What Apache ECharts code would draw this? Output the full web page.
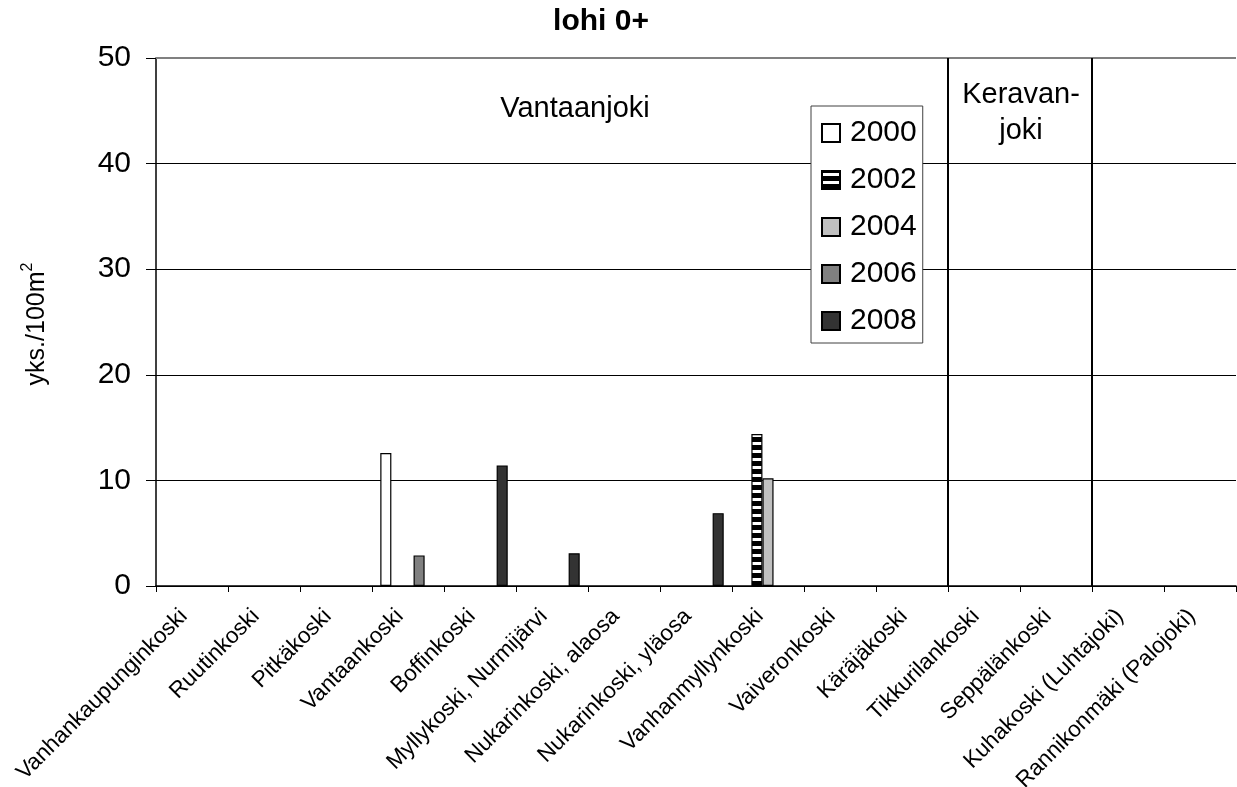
<!DOCTYPE html>
<html>
<head>
<meta charset="utf-8">
<title>lohi 0+</title>
<script src="https://cdn.jsdelivr.net/npm/echarts@6/dist/echarts.min.js"></script>
<style>
  html, body { margin: 0; padding: 0; background: #fff; }
  #chart { width: 1237px; height: 787px; }
</style>
</head>
<body>
<div id="chart"></div>
<script>
// Sampling sites along the rivers
const categories = [
  'Vanhankaupunginkoski', 'Ruutinkoski', 'Pitkäkoski', 'Vantaankoski',
  'Boffinkoski', 'Myllykoski, Nurmijärvi', 'Nukarinkoski, alaosa',
  'Nukarinkoski, yläosa', 'Vanhanmyllynkoski', 'Vaiveronkoski',
  'Käräjäkoski', 'Tikkurilankoski', 'Seppälänkoski',
  'Kuhakoski (Luhtajoki)', 'Rannikonmäki (Palojoki)'
];

// Densities (yks./100m²) per survey year; null = no catch
const v2000 = [null, null, null, 12.6, null, null, null, null, null, null, null, null, null, null, null];
const v2002 = [null, null, null, null, null, null, null, null, 14.4, null, null, null, null, null, null];
const v2004 = [null, null, null, null, null, null, null, null, 10.2, null, null, null, null, null, null];
const v2006 = [null, null, null, 2.9, null, null, null, null, null, null, null, null, null, null, null];
const v2008 = [null, null, null, null, 11.4, 3.1, null, 6.9, null, null, null, null, null, null, null];

const years = ['2000', '2002', '2004', '2006', '2008'];
const yTicks = [0, 10, 20, 30, 40, 50];

// River section boundaries, in category units along the x axis
const riverBounds = [11, 13];

const FONT = '"Liberation Sans", Arial, Helvetica, sans-serif';

// Horizontal stripe fill for the 2002 series
function stripePattern() {
  const c = document.createElement('canvas');
  c.width = 8; c.height = 8;
  const g = c.getContext('2d');
  g.fillStyle = '#000';
  g.fillRect(0, 0, 8, 8);
  g.fillStyle = '#fff';
  g.fillRect(0, 2, 8, 3);
  return c;
}

const fills = ['#ffffff', { image: stripePattern(), repeat: 'repeat' }, '#c0c0c0', '#808080', '#333333'];
const seriesValues = [v2000, v2002, v2004, v2006, v2008];

const chart = echarts.init(document.getElementById('chart'), null, { renderer: 'canvas' });

const barSeries = years.map((y, i) => ({
  name: y,
  type: 'bar',
  xAxisIndex: 0,
  yAxisIndex: 0,
  data: seriesValues[i],
  barGap: '0%',
  barCategoryGap: '23%',
  itemStyle: { color: fills[i], borderColor: '#000', borderWidth: 1.2 },
  emphasis: { disabled: true },
  silent: true
}));

// Grey top border of the plot area
barSeries[0].markLine = {
  silent: true,
  symbol: 'none',
  label: { show: false },
  lineStyle: { color: '#808080', width: 2, type: 'solid' },
  data: [{ yAxis: yTicks[yTicks.length - 1] }]
};

const boundSeries = riverBounds.map((b, i) => ({
  name: 'raja' + i,
  type: 'line',
  xAxisIndex: 1,
  yAxisIndex: 0,
  data: [[b, yTicks[0]], [b, yTicks[yTicks.length - 1]]],
  symbol: 'none',
  silent: true,
  z: 5,
  lineStyle: { color: '#000', width: 2 }
}));

chart.setOption({
  animation: false,
  backgroundColor: '#fff',
  textStyle: { fontFamily: FONT },
  grid: {
    left: 156, right: 1, top: 58, bottom: 201,
    containLabel: false, outerBoundsMode: 'none'
  },
  legend: {
    data: years,
    orient: 'vertical',
    left: 811,
    top: 106,
    icon: 'rect',
    itemWidth: 18,
    itemHeight: 18,
    itemGap: 17,
    padding: [12, 6, 7, 10],
    backgroundColor: '#fff',
    borderColor: '#404040',
    borderWidth: 1,
    selectedMode: false,
    textStyle: { fontSize: 30, color: '#000', fontFamily: FONT, padding: [0, 0, 0, 5] }
  },
  xAxis: [
    {
      type: 'category',
      data: categories,
      axisLine: { lineStyle: { color: '#000', width: 1.5 } },
      axisTick: { show: true, length: 6, interval: 0, lineStyle: { color: '#000' } },
      axisLabel: {
        interval: 0, rotate: 45, fontSize: 22.5, color: '#000', margin: 35,
        verticalAlign: 'bottom', fontFamily: FONT
      },
      splitLine: { show: false }
    },
    { type: 'value', min: 0, max: categories.length, show: false }
  ],
  yAxis: {
    type: 'value',
    min: yTicks[0],
    max: yTicks[yTicks.length - 1],
    interval: 10,
    axisLine: { show: true, lineStyle: { color: '#000', width: 1.5 } },
    axisTick: { show: true, length: 10, lineStyle: { color: '#000' } },
    axisLabel: { fontSize: 30, color: '#000', margin: 25, fontFamily: FONT },
    splitLine: { show: true, lineStyle: { color: '#000', width: 1 } }
  },
  graphic: [
    {
      type: 'text', x: 601, y: 22, z: 10,
      style: { text: 'lohi 0+', font: 'bold 30px ' + FONT, fill: '#000', textAlign: 'center', textVerticalAlign: 'middle' }
    },
    {
      type: 'text', x: 575, y: 109, z: 10,
      style: { text: 'Vantaanjoki', font: '29px ' + FONT, fill: '#000', textAlign: 'center', textVerticalAlign: 'middle' }
    },
    {
      type: 'text', x: 1021, y: 113, z: 10,
      style: { text: 'Keravan-\njoki', font: '29px ' + FONT, lineHeight: 36, fill: '#000', textAlign: 'center', textVerticalAlign: 'middle' }
    },
    {
      type: 'text', x: 35, y: 324, rotation: Math.PI / 2, z: 10,
      style: {
        text: '{m|yks./100m}{s|2}',
        textAlign: 'center', textVerticalAlign: 'middle',
        rich: {
          m: { fontSize: 25, fontFamily: FONT, fill: '#000', lineHeight: 30, verticalAlign: 'bottom' },
          s: { fontSize: 16, fontFamily: FONT, fill: '#000', lineHeight: 30, verticalAlign: 'top' }
        }
      }
    }
  ],
  series: barSeries.concat(boundSeries)
});
</script>
</body>
</html>
